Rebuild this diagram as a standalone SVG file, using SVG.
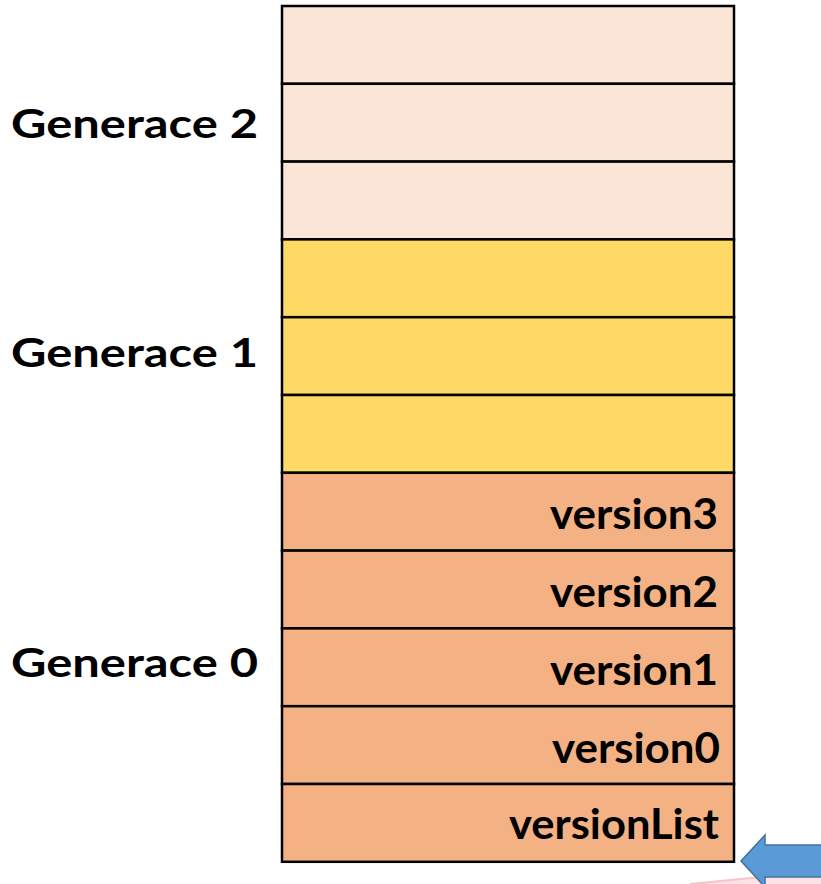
<svg xmlns="http://www.w3.org/2000/svg" width="821" height="884" viewBox="0 0 821 884">
  <style>
    .cell { stroke: #000; stroke-width: 2.5; }
    .g2 { fill: #FBE5D6; }
    .g1 { fill: #FFD966; }
    .g0 { fill: #F4B183; }
    .gen { font-family: Lato, "Liberation Sans", sans-serif; font-weight: bold; font-size: 41px; fill: #000; }
    .lbl { font-family: Lato, "Liberation Sans", sans-serif; font-weight: bold; font-size: 42px; fill: #000; text-anchor: end; }
  </style>

  <!-- generation labels -->
  <g id="label-gen2"><text class="gen" x="11" y="138" textLength="247" lengthAdjust="spacingAndGlyphs">Generace 2</text></g>
  <g id="label-gen1"><text class="gen" x="11" y="367" textLength="247" lengthAdjust="spacingAndGlyphs">Generace 1</text></g>
  <g id="label-gen0"><text class="gen" x="11" y="677" textLength="247" lengthAdjust="spacingAndGlyphs">Generace 0</text></g>

  <!-- generation 2 cells -->
  <g id="gen2">
    <rect class="cell g2" x="282" y="6" width="452" height="77.8"/>
    <rect class="cell g2" x="282" y="83.8" width="452" height="77.8"/>
    <rect class="cell g2" x="282" y="161.6" width="452" height="77.8"/>
  </g>

  <!-- generation 1 cells -->
  <g id="gen1">
    <rect class="cell g1" x="282" y="239.4" width="452" height="77.8"/>
    <rect class="cell g1" x="282" y="317.2" width="452" height="77.8"/>
    <rect class="cell g1" x="282" y="395" width="452" height="77.8"/>
  </g>

  <!-- generation 0 cells -->
  <g id="gen0">
    <g id="version3">
      <rect class="cell g0" x="282" y="472.8" width="452" height="77.8"/>
      <text class="lbl" x="718" y="529" textLength="168" lengthAdjust="spacingAndGlyphs">version3</text>
    </g>
    <g id="version2">
      <rect class="cell g0" x="282" y="550.6" width="452" height="77.8"/>
      <text class="lbl" x="718" y="607" textLength="168" lengthAdjust="spacingAndGlyphs">version2</text>
    </g>
    <g id="version1">
      <rect class="cell g0" x="282" y="628.4" width="452" height="77.8"/>
      <text class="lbl" x="718" y="685" textLength="168" lengthAdjust="spacingAndGlyphs">version1</text>
    </g>
    <g id="version0">
      <rect class="cell g0" x="282" y="706.2" width="452" height="77.8"/>
      <text class="lbl" x="720" y="763" textLength="168" lengthAdjust="spacingAndGlyphs">version0</text>
    </g>
    <g id="versionList">
      <rect class="cell g0" x="282" y="784" width="452" height="77.8"/>
      <text class="lbl" x="719" y="839" textLength="210" lengthAdjust="spacingAndGlyphs">versionList</text>
    </g>
  </g>

  <!-- pointer arrow over a pale pink band -->
  <g id="connectors">
    <path d="M690 884 L821 871 L821 884 Z" fill="#FBE3E5"/>
    <path d="M690 884 L821 871" stroke="#F5C4C8" stroke-width="2" fill="none"/>
    <path d="M741 861 L765 835 L765 845 L823 845 L823 877 L765 877 L765 887 Z" fill="#5B9BD5" stroke="#41719C" stroke-width="1.5"/>
  </g>
</svg>
